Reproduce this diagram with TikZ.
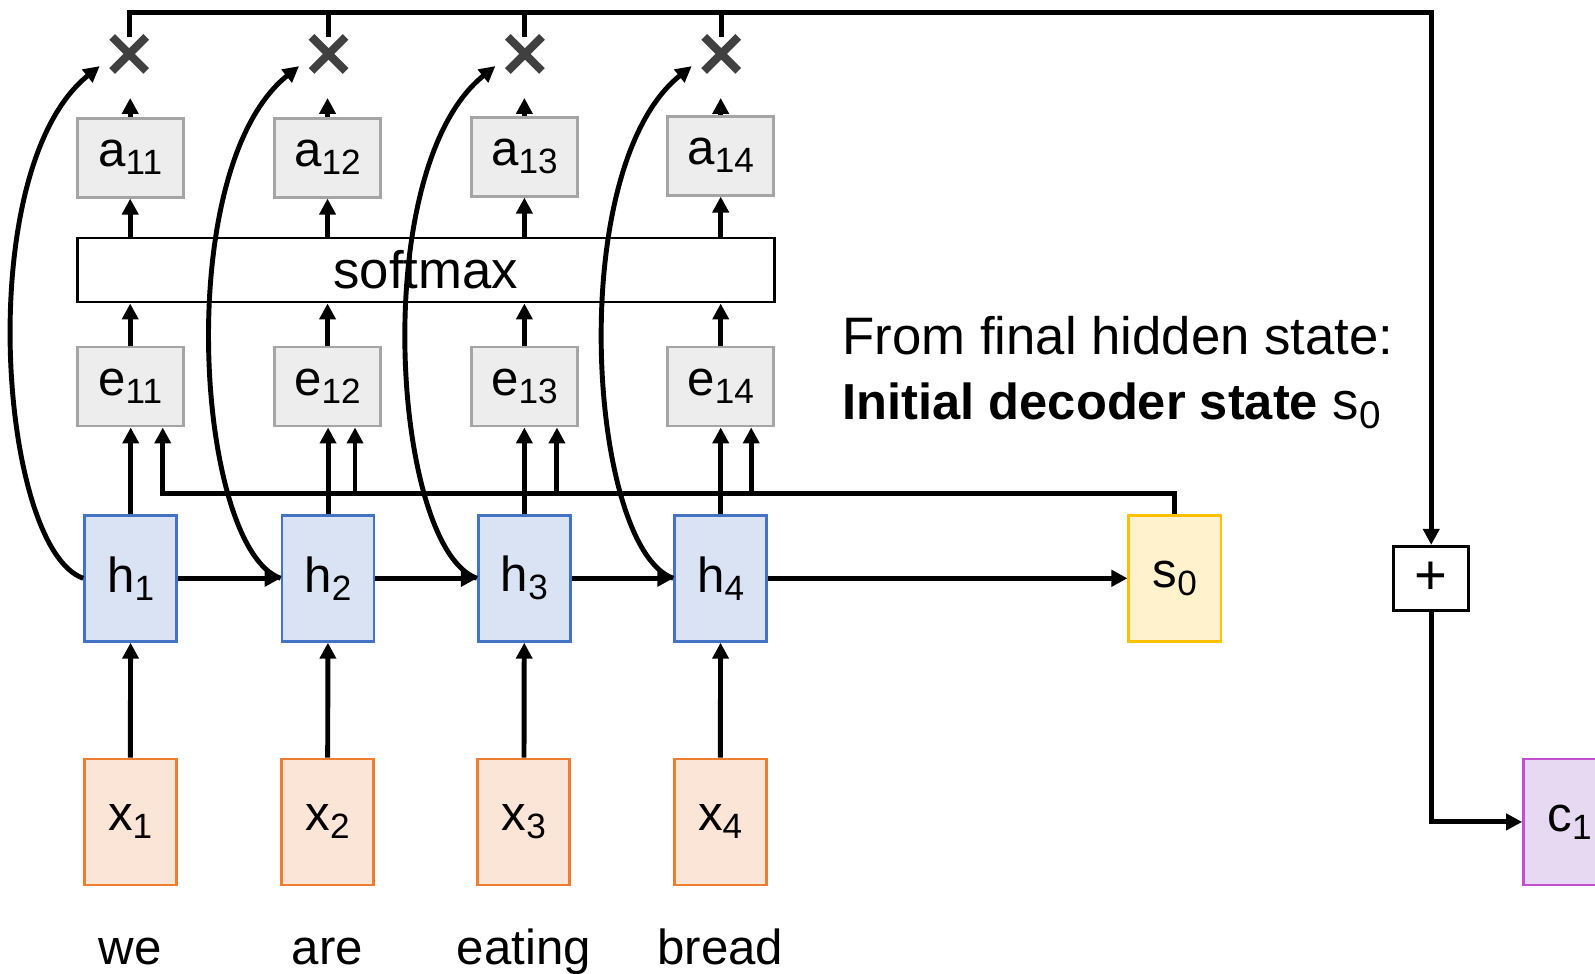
\documentclass[tikz,border=0pt]{standalone}
\usepackage{fontspec}
\setmainfont{Liberation Sans}
\usepackage{tikz}
\usetikzlibrary{arrows.meta,shapes.misc}

\definecolor{inpfill}{HTML}{FBE5D6}
\definecolor{inpdraw}{HTML}{ED7D31}
\definecolor{hidfill}{HTML}{DAE3F3}
\definecolor{hiddraw}{HTML}{4472C4}
\definecolor{decfill}{HTML}{FFF2CC}
\definecolor{decdraw}{HTML}{FFC000}
\definecolor{scofill}{HTML}{EDEDED}
\definecolor{scodraw}{HTML}{A5A5A5}
\definecolor{ctxfill}{HTML}{E8D9F3}
\definecolor{ctxdraw}{HTML}{C050D0}
\definecolor{mulgray}{HTML}{404040}

\newcommand{\lowsub}[1]{\raisebox{-0.8mm}{\fontsize{10}{10}\selectfont #1}}

\begin{document}
\begin{tikzpicture}[x=0.10172mm,y=-0.10172mm,line width=1.4pt,
  >={Triangle[length=1.6mm,width=1.6mm]},
  font=\fontsize{14}{17}\selectfont,
  inp/.style={draw=inpdraw,fill=inpfill,line width=0.8pt,minimum width=9.2mm,minimum height=12.6mm},
  hid/.style={draw=hiddraw,fill=hidfill,line width=0.8pt,minimum width=9.2mm,minimum height=12.6mm},
  dec/.style={draw=decdraw,fill=decfill,line width=0.8pt,minimum width=9.2mm,minimum height=12.6mm},
  ctx/.style={draw=ctxdraw,fill=ctxfill,line width=0.8pt,minimum width=9.2mm,minimum height=12.6mm},
  sco/.style={draw=scodraw,fill=scofill,line width=0.8pt,minimum width=10.6mm,minimum height=7.9mm},
  mul/.style={cross out,draw=mulgray,line width=2.3pt,minimum size=2.6mm,inner sep=0pt}]
\useasboundingbox (0,0) rectangle (1568,957);

% inputs
\node [inp] (x1) at (128,808) {x\lowsub{1}};
\node [inp] (x2) at (322,808) {x\lowsub{2}};
\node [inp] (x3) at (515,808) {x\lowsub{3}};
\node [inp] (x4) at (708,808) {x\lowsub{4}};
\node [anchor=base] (w1) at (128,948) {we};
\node [anchor=base] (w2) at (322,948) {are};
\node [anchor=base] (w3) at (515,948) {eating};
\node [anchor=base] (w4) at (708,948) {bread};

% encoder
\node [hid] (h1) at (128.5,568.5) {h\lowsub{1}};
\node [hid] (h2) at (322.5,568.5) {h\lowsub{2}};
\node [hid] (h3) at (515.5,568.5) {h\lowsub{3}};
\node [hid] (h4) at (708.5,568.5) {h\lowsub{4}};
\node [dec] (s0) at (1155,568.5) {s\lowsub{0}};

% scores and weights
\node [sco] (e1) at (128,380) {e\lowsub{11}};
\node [sco] (e2) at (322,380) {e\lowsub{12}};
\node [sco] (e3) at (515.5,380) {e\lowsub{13}};
\node [sco] (e4) at (708.5,380) {e\lowsub{14}};
\node [draw,line width=0.8pt,minimum width=69.7mm,minimum height=6.4mm,font=\fontsize{15}{18}\selectfont] (sm) at (418.5,265.5) {softmax};
\node [sco] (a1) at (128,155) {a\lowsub{11}};
\node [sco] (a2) at (322,155) {a\lowsub{12}};
\node [sco] (a3) at (515.5,154) {a\lowsub{13}};
\node [sco] (a4) at (708.5,153) {a\lowsub{14}};

\node [mul] (m1) at (127,53) {};
\node [mul] (m2) at (323,53) {};
\node [mul] (m3) at (516,53) {};
\node [mul] (m4) at (709,53) {};

\node [draw,fill=white,line width=0.8pt,minimum width=7.5mm,minimum height=6.4mm,font=\fontsize{16}{18}\selectfont] (plus) at (1407,568.5) {+};
\node [ctx] (c1) at (1543,808) {c\lowsub{1}};

\node [anchor=base west,inner sep=0pt,font=\fontsize{15}{18}\selectfont] (t1) at (826,348) {From final hidden state:};
\node [anchor=base west,inner sep=0pt,font=\fontsize{15}{18}\selectfont] (t2) at (826,412) {{\fontsize{14.4}{18}\selectfont\bfseries Initial decoder state} s\raisebox{-0.9mm}{\fontsize{11}{11}\selectfont 0}};

\coordinate (top) at (1407,12);
\coordinate (sj) at (1155,485);
\coordinate (in1) at ([shift={(32,0)}]e1.south);
\coordinate (in2) at ([shift={(27,0)}]e2.south);
\coordinate (in3) at ([shift={(32,0)}]e3.south);
\coordinate (in4) at ([shift={(30,0)}]e4.south);

\draw [->] (x1) -- (h1);
\draw [->] (x2) -- (h2);
\draw [->] (x3) -- (h3);
\draw [->] (x4) -- (h4);
\draw [->] (h1) -- (h2);
\draw [->] (h2) -- (h3);
\draw [->] (h3) -- (h4);
\draw [->] (h4) -- (s0);

\draw [->] (h1.north) -- (h1.north |- e1.south);
\draw [->] (h2.north) -- (h2.north |- e2.south);
\draw [->] (h3.north) -- (h3.north |- e3.south);
\draw [->] (h4.north) -- (h4.north |- e4.south);
\draw [->] (s0.north) -- (sj) -| (in1);
\draw [->] (in2 |- sj) -- (in2);
\draw [->] (in3 |- sj) -- (in3);
\draw [->] (in4 |- sj) -- (in4);

\draw [->] (e1.north) -- (e1.north |- sm.south);
\draw [->] (e2.north) -- (e2.north |- sm.south);
\draw [->] (e3.north) -- (e3.north |- sm.south);
\draw [->] (e4.north) -- (e4.north |- sm.south);
\draw [->] (a1.south |- sm.north) -- (a1.south);
\draw [->] (a2.south |- sm.north) -- (a2.south);
\draw [->] (a3.south |- sm.north) -- (a3.south);
\draw [->] (a4.south |- sm.north) -- (a4.south);
\draw [->,shorten >=2.7mm] (a1.north) -- (a1.north |- m1.south);
\draw [->,shorten >=2.7mm] (a2.north) -- (a2.north |- m2.south);
\draw [->,shorten >=2.7mm] (a3.north) -- (a3.north |- m3.south);
\draw [->,shorten >=2.7mm] (a4.north) -- (a4.north |- m4.south);

\draw [->] (h1.west) .. controls +(-83,-29) and +(-126,101) .. ([shift={(-29,12)}]m1.center);
\draw [->] (h2.west) .. controls +(-83,-29) and +(-126,101) .. ([shift={(-29,12)}]m2.center);
\draw [->] (h3.west) .. controls +(-83,-29) and +(-126,101) .. ([shift={(-29,12)}]m3.center);
\draw [->] (h4.west) .. controls +(-83,-29) and +(-126,101) .. ([shift={(-29,12)}]m4.center);

\draw [->] (m1.north) |- (top) -- (plus.north);
\draw (m2.north) -- (m2.north |- top);
\draw (m3.north) -- (m3.north |- top);
\draw (m4.north) -- (m4.north |- top);
\draw [->] (plus.south) |- (c1.west);
\end{tikzpicture}
\end{document}
